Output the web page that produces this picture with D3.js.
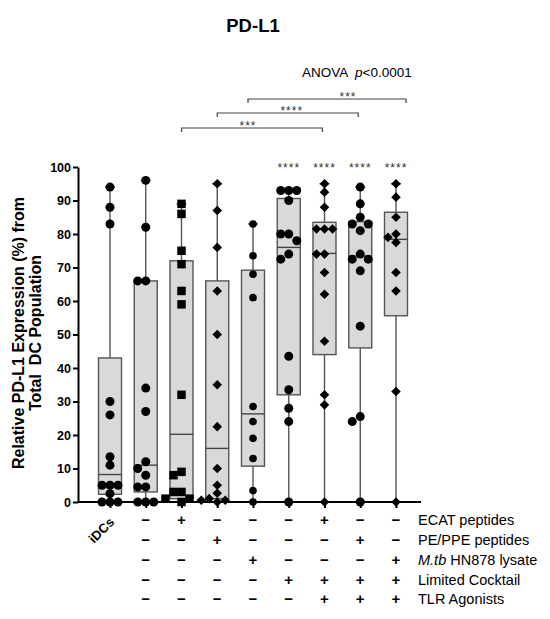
<!DOCTYPE html>
<html>
<head>
<meta charset="utf-8">
<script src="https://cdn.jsdelivr.net/npm/d3@7"></script>
<style>
    body { margin: 0; background: #fff; }
    svg { font-family: "Liberation Sans", Arial, sans-serif; }
</style>
</head>
<body>
<div id="chart"></div>
<script>
// groups along the x axis (only the first one carries a label)
const groups = ["iDCs", "mDCs", "ECAT", "PE/PPE", "M.tb lysate", "LC", "LC+TLR+ECAT", "LC+TLR+PE/PPE", "LC+TLR+M.tb"];

// box summary
const boxMin    = [0, 0, 0, 0, 0, 0, 0, 0, 0];
const boxQ1     = [2.3, 3, 1, 1, 10.7, 32, 44, 46, 55.6];
const boxMedian = [8.2, 11, 20.2, 16, 26.3, 76, 74.2, 73.4, 78.4];
const boxQ3     = [43, 66, 72, 66, 69.2, 90.6, 83.5, 83.7, 86.5];
const boxMax    = [94, 96, 89, 95, 83, 93, 95, 94, 95];

// individual donors per group
const points = [
    [94, 88, 83, 30, 26, 13.5, 11, 5, 5, 5, 2.5, 0, 0, 0],
    [96, 82, 66, 66, 34, 27, 12, 10, 8, 4.5, 4.5, 0, 0, 0],
    [89, 86, 75, 71, 63, 59, 32, 9, 8, 3, 3, 1, 1, 0],
    [95, 87, 76, 63, 50, 35, 22.5, 10, 5, 2.6, 1, 0.5, 0.5, 0],
    [83, 73.5, 68, 61, 28.5, 24, 19, 13, 3.4, 0],
    [93, 93, 93, 90, 80, 80, 78, 74, 72.5, 43.5, 33.5, 28, 24, 0],
    [95, 92.5, 88, 81.5, 81.5, 81.5, 74, 74, 68.5, 62, 48, 32, 29, 0],
    [94, 89, 85, 83, 83, 81, 74, 72.5, 72.5, 69, 52.5, 25.5, 24, 0],
    [95, 91, 85, 80, 79, 77.5, 68.5, 63, 33, 0]
];
const markers = ["circle", "circle", "square", "diamond", "small", "circle", "diamond", "circle", "diamond"];

// stars vs iDCs, and the pairwise brackets
const starsVsControl = ["", "", "", "", "", "****", "****", "****", "****"];
const bracketFrom  = [4, 3, 2];
const bracketTo    = [8, 7, 6];
const bracketStars = ["***", "****", "***"];

// stimulation table under the axis
const rowLabels = ["ECAT peptides", "PE/PPE peptides", "M.tb HN878 lysate", "Limited Cocktail", "TLR Agonists"];
const rowSigns = [
    ["", "−", "+", "−", "−", "−", "+", "−", "−"],
    ["", "−", "−", "+", "−", "−", "−", "+", "−"],
    ["", "−", "−", "−", "+", "−", "−", "−", "+"],
    ["", "−", "−", "−", "−", "+", "+", "+", "+"],
    ["", "−", "−", "−", "−", "−", "+", "+", "+"]
];
const yTicks = d3.range(0, 101, 10);

const width = 550, height = 619;
const svg = d3.select("#chart").append("svg")
    .attr("width", width)
    .attr("height", height);

const x = d3.scalePoint().domain(d3.range(groups.length)).range([110, 396]);
const y = d3.scaleLinear().domain([0, 100]).range([502, 167]);
const axisLeftX = 78, axisRightX = 421;
const boxHalf = 11.5;

// title + anova
svg.append("text")
    .attr("x", 253).attr("y", 32)
    .attr("text-anchor", "middle")
    .style("font-size", "18.5px").style("font-weight", "bold")
    .text("PD-L1");

let anova = svg.append("text")
    .attr("x", 302).attr("y", 77)
    .style("font-size", "13.5px")
    .style("white-space", "pre");
anova.append("tspan").text("ANOVA  ");
anova.append("tspan").style("font-style", "italic").text("p");
anova.append("tspan").text("<0.0001");

// y axis title
let yTitle = svg.append("g").attr("transform", "translate(0,333) rotate(-90)");
yTitle.append("text").attr("x", 0).attr("y", 24)
    .attr("text-anchor", "middle")
    .style("font-size", "16px").style("font-weight", "bold")
    .text("Relative PD-L1 Expression (%) from");
yTitle.append("text").attr("x", 0).attr("y", 41)
    .attr("text-anchor", "middle")
    .style("font-size", "16px").style("font-weight", "bold")
    .style("white-space", "pre")
    .text("Total  DC Population");

// y axis
let yAxis = svg.append("g")
    .attr("transform", `translate(${axisLeftX},0)`)
    .call(d3.axisLeft(y).tickValues(yTicks).tickSize(5).tickPadding(2).tickSizeOuter(0));
yAxis.select(".domain").attr("stroke", "#000").attr("stroke-width", 2);
yAxis.selectAll(".tick line").attr("stroke", "#000").attr("stroke-width", 2);
yAxis.selectAll(".tick text")
    .attr("fill", "#000")
    .style("font-size", "12.5px").style("font-weight", "bold")
    .style("font-family", "Liberation Sans, Arial, sans-serif");

// x axis (line drawn by hand so it spans the whole plot)
let xAxis = svg.append("g")
    .attr("transform", `translate(0,${y(0)})`)
    .call(d3.axisBottom(x).tickFormat("").tickSize(6).tickSizeOuter(0));
xAxis.select(".domain").remove();
xAxis.selectAll(".tick line").attr("stroke", "#000").attr("stroke-width", 2);

// boxes
let boxes = svg.append("g").selectAll("g")
    .data(groups.map((g, i) => i))
    .enter().append("g");

boxes.append("line")
    .attr("x1", i => x(i)).attr("x2", i => x(i))
    .attr("y1", i => y(boxMin[i])).attr("y2", i => y(boxMax[i]))
    .attr("stroke", "#555").attr("stroke-width", 1.4);
boxes.append("line")
    .attr("x1", i => x(i) - 5).attr("x2", i => x(i) + 5)
    .attr("y1", i => y(boxMax[i])).attr("y2", i => y(boxMax[i]))
    .attr("stroke", "#555").attr("stroke-width", 1.4);
boxes.append("rect")
    .attr("x", i => x(i) - boxHalf)
    .attr("width", boxHalf * 2)
    .attr("y", i => y(boxQ3[i]))
    .attr("height", i => y(boxQ1[i]) - y(boxQ3[i]))
    .attr("fill", "#d9d9d9")
    .attr("stroke", "#555").attr("stroke-width", 1.4);
boxes.append("line")
    .attr("x1", i => x(i) - boxHalf).attr("x2", i => x(i) + boxHalf)
    .attr("y1", i => y(boxMedian[i])).attr("y2", i => y(boxMedian[i]))
    .attr("stroke", "#444").attr("stroke-width", 1.4);

// x axis baseline on top of the boxes
svg.append("line")
    .attr("x1", axisLeftX).attr("x2", axisRightX)
    .attr("y1", y(0)).attr("y2", y(0))
    .attr("stroke", "#000").attr("stroke-width", 2);

// spread equal values sideways so the dots don't sit on each other
function dodge(vals, step, minDist) {
    let order = vals.map((v, i) => ({v, i})).sort((a, b) => b.v - a.v);
    let placed = [];
    let offsets = new Array(vals.length).fill(0);
    order.forEach(p => {
        let py = y(p.v);
        for (let k = 0; k < 30; k++) {
            let dx = k === 0 ? 0 : (k % 2 ? -1 : 1) * Math.ceil(k / 2) * step;
            if (placed.every(q => Math.hypot(q.dx - dx, q.py - py) >= minDist)) {
                placed.push({dx, py});
                offsets[p.i] = dx;
                break;
            }
        }
    });
    return offsets;
}

const symbolFor = {
    circle:  {type: d3.symbolCircle, size: Math.PI * 4.5 * 4.5, rot: 0},
    small:   {type: d3.symbolCircle, size: Math.PI * 3.8 * 3.8, rot: 0},
    square:  {type: d3.symbolSquare, size: 72, rot: 0},
    diamond: {type: d3.symbolSquare, size: 46, rot: 45}
};

let dots = svg.append("g");
points.forEach((vals, gi) => {
    let offs = dodge(vals, 8, 8);
    let s = symbolFor[markers[gi]];
    dots.selectAll(null)
        .data(vals)
        .enter().append("path")
        .attr("d", d3.symbol().type(s.type).size(s.size))
        .attr("transform", (d, j) => `translate(${x(gi) + offs[j]},${y(d)}) rotate(${s.rot})`)
        .attr("fill", "#000");
});

// stars vs control above each box
svg.append("g").selectAll("text")
    .data(starsVsControl)
    .enter().append("text")
    .attr("x", (d, i) => x(i))
    .attr("y", 172)
    .attr("text-anchor", "middle")
    .style("font-size", "12px")
    .style("letter-spacing", "1px")
    .attr("fill", "#333")
    .text(d => d);

// comparison brackets
const bracketY = [99, 113, 128];
const starShift = [21, 4, -4];
bracketFrom.forEach((f, i) => {
    let x1 = x(f) - (i === 0 ? 5 : 0), x2 = x(bracketTo[i]) + (i === 0 ? 10 : -2);
    let by = bracketY[i];
    svg.append("path")
        .attr("d", `M${x1},${by + 4}V${by}H${x2}V${by + 4}`)
        .attr("fill", "none")
        .attr("stroke", "#444").attr("stroke-width", 1.2);
    svg.append("text")
        .attr("x", (x1 + x2) / 2 + starShift[i])
        .attr("y", by + 2)
        .attr("text-anchor", "middle")
        .style("font-size", "12px")
        .style("letter-spacing", "1px")
        .attr("fill", "#333")
        .text(bracketStars[i]);
});

// iDCs label
svg.append("text")
    .attr("transform", `translate(115,523) rotate(-45)`)
    .attr("text-anchor", "end")
    .style("font-size", "13px").style("font-weight", "bold")
    .text(groups[0]);

// table of +/- signs
const rowY = [525, 545, 565, 585, 604];
rowSigns.forEach((row, r) => {
    svg.append("g").selectAll("text")
        .data(row)
        .enter().append("text")
        .attr("x", (d, i) => x(i))
        .attr("y", rowY[r])
        .attr("text-anchor", "middle")
        .style("font-size", "15px").style("font-weight", "bold")
        .text(d => d);

    let lab = svg.append("text")
        .attr("x", 418).attr("y", rowY[r])
        .style("font-size", "14.5px");
    if (rowLabels[r].startsWith("M.tb")) {
        lab.append("tspan").style("font-style", "italic").text("M.tb");
        lab.append("tspan").text(rowLabels[r].slice(4));
    } else {
        lab.text(rowLabels[r]);
    }
});
</script>
</body>
</html>
